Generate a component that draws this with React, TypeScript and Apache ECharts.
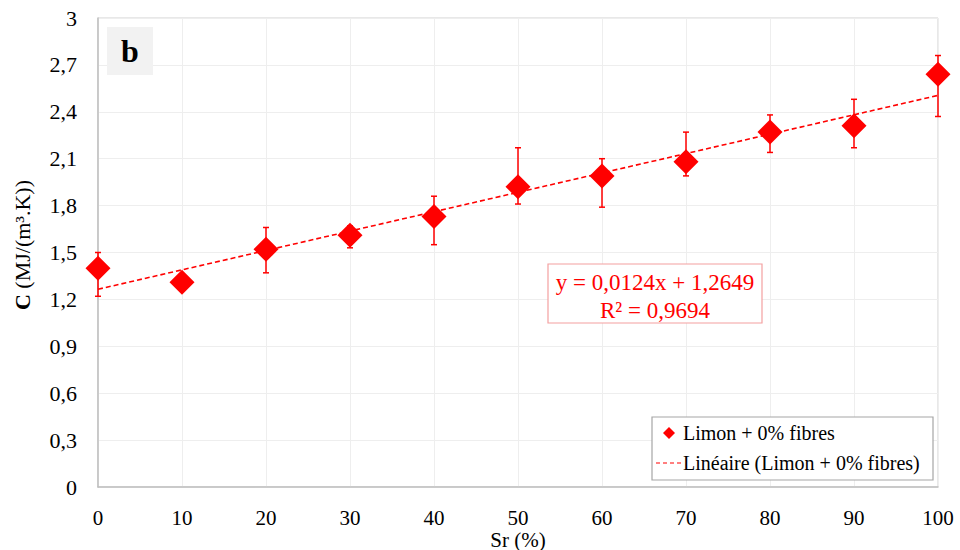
import React, { useEffect, useRef } from "react";
import * as echarts from "echarts";

const srValues = [0, 10, 20, 30, 40, 50, 60, 70, 80, 90, 100];
const cValues = [1.40, 1.31, 1.52, 1.61, 1.73, 1.92, 1.99, 2.08, 2.27, 2.31, 2.64];
const errTop = [1.50, 1.35, 1.66, 1.67, 1.86, 2.17, 2.10, 2.27, 2.38, 2.48, 2.76];
const errBottom = [1.22, 1.27, 1.37, 1.53, 1.55, 1.81, 1.79, 1.99, 2.14, 2.17, 2.37];
const trendSlope = 0.0124;
const trendIntercept = 1.2649;
const trendX = [0, 100];
const seriesName = "Limon + 0% fibres";
const trendName = "Linéaire (Limon + 0% fibres)";
const equationLines = ["y = 0,0124x + 1,2649", "R² = 0,9694"];

const FONT = "Liberation Serif";
const RED = "#ff0000";

export default function App() {
  const ref = useRef<HTMLDivElement>(null);
  useEffect(() => {
    if (!ref.current) return;
    const chart = echarts.init(ref.current, undefined, { renderer: "svg" });
    const points = srValues.map((x, i) => [x, cValues[i]]);
    const errData = srValues.map((x, i) => [x, errBottom[i], errTop[i]]);
    const trendData = trendX.map((x) => [x, trendSlope * x + trendIntercept]);
    const fmt = (v: number) => String(Math.round(v * 10) / 10).replace(".", ",");
    chart.setOption({
      animation: false,
      backgroundColor: "#ffffff",
      textStyle: { fontFamily: FONT },
      grid: {
        left: 98,
        top: 18,
        right: 22,
        bottom: 63,
        show: true,
        borderColor: "#d0d0d0",
        borderWidth: 1,
        containLabel: false,
        outerBoundsMode: "none",
      },
      xAxis: {
        type: "value",
        min: 0,
        max: 100,
        interval: 10,
        name: "Sr (%)",
        nameLocation: "middle",
        nameGap: 42,
        nameMoveOverlap: false,
        nameTextStyle: { fontFamily: FONT, fontSize: 21, color: "#000" },
        axisLine: { show: true, lineStyle: { color: "#bfbfbf", width: 1.5 } },
        axisTick: { show: false },
        axisLabel: { fontFamily: FONT, fontSize: 21, color: "#000", margin: 20 },
        splitLine: { show: true, lineStyle: { color: "#eeeeee", width: 1 } },
      },
      yAxis: {
        type: "value",
        min: 0,
        max: 3,
        interval: 0.3,
        axisLine: { show: true, lineStyle: { color: "#bfbfbf", width: 1.5 } },
        axisTick: { show: false },
        axisLabel: {
          fontFamily: FONT,
          fontSize: 22,
          color: "#000",
          margin: 21,
          formatter: fmt,
        },
        splitLine: { show: true, lineStyle: { color: "#eeeeee", width: 1 } },
      },
      series: [
        {
          name: trendName,
          type: "line",
          data: trendData,
          symbol: "none",
          lineStyle: { color: RED, width: 1.6, type: [5, 3] },
          z: 2,
        },
        {
          name: "err",
          type: "custom",
          data: errData,
          z: 3,
          renderItem: (params: any, api: any) => {
            const x = api.value(0);
            const lo = api.coord([x, api.value(1)]);
            const hi = api.coord([x, api.value(2)]);
            const cap = 3;
            const style = { stroke: RED, lineWidth: 1.5 };
            return {
              type: "group",
              children: [
                { type: "line", shape: { x1: hi[0], y1: hi[1], x2: lo[0], y2: lo[1] }, style },
                { type: "line", shape: { x1: hi[0] - cap, y1: hi[1], x2: hi[0] + cap, y2: hi[1] }, style },
                { type: "line", shape: { x1: lo[0] - cap, y1: lo[1], x2: lo[0] + cap, y2: lo[1] }, style },
              ],
            };
          },
        },
        {
          name: seriesName,
          type: "scatter",
          data: points,
          symbol: "diamond",
          symbolSize: 25,
          itemStyle: { color: RED, opacity: 1 },
          z: 4,
        },
      ],
      graphic: [
        {
          type: "rect",
          shape: { x: 107, y: 27, width: 46, height: 48 },
          style: { fill: "#f2f2f2" },
          z: 10,
        },
        {
          type: "text",
          x: 130,
          y: 51,
          style: {
            text: "b",
            fontFamily: FONT,
            fontSize: 32,
            fontWeight: "bold",
            fill: "#000",
            align: "center",
            verticalAlign: "middle",
          },
          z: 11,
        },
        {
          type: "text",
          x: 22,
          y: 245,
          rotation: Math.PI / 2,
          style: {
            text: "{b|C} (MJ/(m³.K))",
            fontFamily: FONT,
            fontSize: 22,
            fill: "#000",
            align: "center",
            verticalAlign: "middle",
            rich: {
              b: { fontFamily: FONT, fontSize: 22, fontWeight: "bold", fill: "#000" },
            },
          },
        },
        {
          type: "rect",
          shape: { x: 548, y: 264, width: 214, height: 59 },
          style: { fill: "#ffffff", stroke: "#f4a0a0", lineWidth: 1.2 },
          z: 10,
        },
        {
          type: "text",
          x: 655,
          y: 282,
          style: {
            text: equationLines[0],
            fontFamily: FONT,
            fontSize: 23,
            fill: RED,
            align: "center",
            verticalAlign: "middle",
          },
          z: 11,
        },
        {
          type: "text",
          x: 655,
          y: 310,
          style: {
            text: equationLines[1],
            fontFamily: FONT,
            fontSize: 23,
            fill: RED,
            align: "center",
            verticalAlign: "middle",
          },
          z: 11,
        },
        {
          type: "rect",
          shape: { x: 652, y: 417, width: 281, height: 63 },
          style: { fill: "#ffffff", stroke: "#a6a6a6", lineWidth: 1.2 },
          z: 10,
        },
        {
          type: "polygon",
          shape: { points: [[669, 427], [675, 433], [669, 439], [663, 433]] },
          style: { fill: RED },
          z: 11,
        },
        {
          type: "text",
          x: 683,
          y: 433,
          style: {
            text: seriesName,
            fontFamily: FONT,
            fontSize: 20,
            fill: "#000",
            align: "left",
            verticalAlign: "middle",
          },
          z: 11,
        },
        {
          type: "line",
          shape: { x1: 656, y1: 463, x2: 681, y2: 463 },
          style: { stroke: RED, lineWidth: 1.2, lineDash: [4, 3] },
          z: 11,
        },
        {
          type: "text",
          x: 683,
          y: 463,
          style: {
            text: trendName,
            fontFamily: FONT,
            fontSize: 20,
            fill: "#000",
            align: "left",
            verticalAlign: "middle",
          },
          z: 11,
        },
      ],
    });
    return () => chart.dispose();
  }, []);
  return <div ref={ref} style={{ width: 960, height: 550, position: "absolute", left: 0, top: 0 }} />;
}
